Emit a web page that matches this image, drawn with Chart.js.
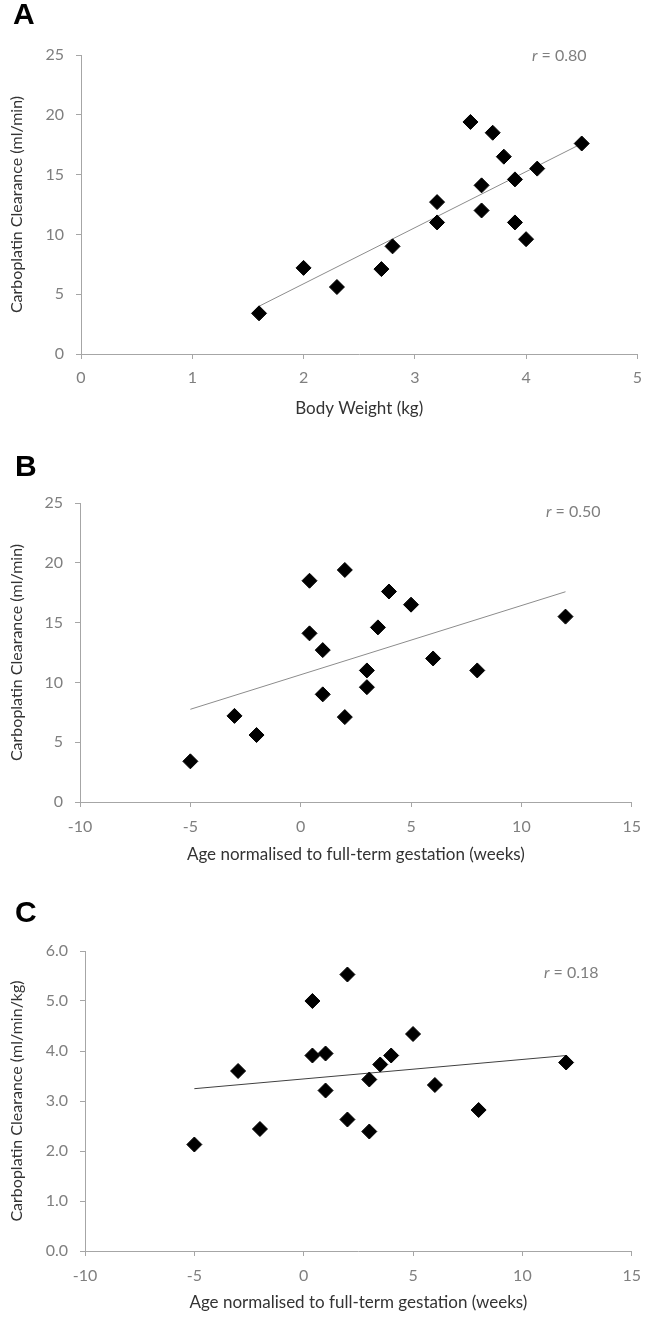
<!DOCTYPE html>
<html>
<head>
<meta charset="utf-8">
<script src="https://cdn.jsdelivr.net/npm/chart.js@4"></script>
<style>
    body { margin: 0; background: #fff; }
    .panel { position: relative; width: 651px; height: 440px; }
</style>
</head>
<body>
<div class="panel"><canvas id="panelA" width="651" height="440"></canvas></div>
<div class="panel"><canvas id="panelB" width="651" height="440"></canvas></div>
<div class="panel"><canvas id="panelC" width="651" height="440"></canvas></div>
<script>
// panel A: clearance against body weight
var weightKg = [1.6, 2.0, 2.3, 2.7, 2.8, 3.2, 3.2, 3.5, 3.6, 3.6, 3.7, 3.8, 3.9, 3.9, 4.0, 4.1, 4.5];
var clearanceByWeight = [3.4, 7.2, 5.6, 7.1, 9.0, 12.7, 11.0, 19.4, 14.1, 12.0, 18.5, 16.5, 14.6, 11.0, 9.6, 15.5, 17.6];

// panels B and C: against normalised age
var ageWeeks = [-5, -3, -2, 0.4, 0.4, 1, 1, 2, 2, 3, 3, 3.5, 4, 5, 6, 8, 12];
var clearanceByAge = [3.4, 7.2, 5.6, 18.5, 14.1, 12.7, 9.0, 19.4, 7.1, 11.0, 9.6, 14.6, 17.6, 16.5, 12.0, 11.0, 15.5];
var clearancePerKg = [2.13, 3.6, 2.44, 5.0, 3.91, 3.95, 3.21, 5.53, 2.63, 3.43, 2.39, 3.73, 3.91, 4.34, 3.32, 2.82, 3.77];

var weightTicks = [0, 1, 2, 3, 4, 5];
var ageTicks = [-10, -5, 0, 5, 10, 15];
var clearanceTicks = [0, 5, 10, 15, 20, 25];
var perKgTicks = [0, 1, 2, 3, 4, 5, 6];

var panelLetters = ["A", "B", "C"];
var rValues = ["0.80", "0.50", "0.18"];

var AXIS = "#a6a6a6";
var TICK = "#7f7f7f";
var TITLE = "#333333";
var FONT = "Lato";

function trendLine(xs, ys) {
    var n = xs.length, mx = 0, my = 0, sxy = 0, sxx = 0;
    for (var i = 0; i < n; i++) { mx += xs[i]; my += ys[i]; }
    mx /= n; my /= n;
    for (var j = 0; j < n; j++) {
        sxy += (xs[j] - mx) * (ys[j] - my);
        sxx += (xs[j] - mx) * (xs[j] - mx);
    }
    var b = sxy / sxx;
    var lo = Math.min.apply(null, xs), hi = Math.max.apply(null, xs);
    return [{ x: lo, y: my + b * (lo - mx) }, { x: hi, y: my + b * (hi - mx) }];
}

function points(xs, ys) {
    return xs.map(function (x, i) { return { x: x, y: ys[i] }; });
}

var panelText = {
    id: "panelText",
    afterDraw: function (chart, args, opts) {
        var ctx = chart.ctx;
        ctx.save();
        ctx.fillStyle = "#000";
        ctx.textBaseline = "alphabetic";
        ctx.font = "bold 30px 'Liberation Sans'";
        ctx.fillText(opts.letter, opts.letterX, opts.letterY);

        ctx.fillStyle = TICK;
        ctx.textBaseline = "middle";
        ctx.font = "italic 16px " + FONT;
        ctx.fillText("r", opts.rX, opts.rY);
        var w = ctx.measureText("r").width;
        ctx.font = "16px " + FONT;
        ctx.fillText(" = " + opts.r, opts.rX + w, opts.rY);
        ctx.restore();
    }
};

function makeChart(id, p) {
    var cfg = {
        type: "scatter",
        data: {
            datasets: [
                {
                    data: points(p.xs, p.ys),
                    pointStyle: "rectRot",
                    pointRadius: 7.5,
                    pointBackgroundColor: "#000",
                    pointBorderColor: "#000",
                    pointBorderWidth: 1,
                    order: 0,
                },
                {
                    data: trendLine(p.xs, p.ys),
                    showLine: true,
                    pointRadius: 0,
                    borderColor: p.lineColor,
                    borderWidth: 1,
                    order: 1,
                },
            ],
        },
        options: {
            animation: false,
            responsive: false,
            layout: {
                autoPadding: false,
                padding: { top: p.top, left: 0, right: p.right, bottom: p.bottom },
            },
            plugins: {
                legend: { display: false },
                tooltip: { enabled: false },
                panelText: p.text,
            },
            scales: {
                x: {
                    type: "linear",
                    min: p.xTicks[0],
                    max: p.xTicks[p.xTicks.length - 1],
                    afterBuildTicks: function (s) {
                        s.ticks = p.xTicks.map(function (v) { return { value: v }; });
                    },
                    afterFit: function (s) { s.height = p.xHeight; },
                    grid: { drawOnChartArea: false, drawTicks: true, tickLength: 5, color: AXIS },
                    border: { display: true, color: AXIS, width: 1 },
                    ticks: {
                        color: TICK,
                        font: { family: FONT, size: 16 },
                        padding: p.xPad,
                        autoSkip: false,
                        maxRotation: 0,
                    },
                    title: {
                        display: true,
                        text: p.xTitle,
                        color: TITLE,
                        font: { family: FONT, size: 17 },
                        padding: { top: 0, bottom: p.xTitlePad },
                    },
                },
                y: {
                    type: "linear",
                    min: p.yTicks[0],
                    max: p.yTicks[p.yTicks.length - 1],
                    afterBuildTicks: function (s) {
                        s.ticks = p.yTicks.map(function (v) { return { value: v }; });
                    },
                    afterFit: function (s) { s.width = p.left; },
                    grid: { drawOnChartArea: false, drawTicks: true, tickLength: 5, color: AXIS },
                    border: { display: true, color: AXIS, width: 1 },
                    ticks: {
                        color: TICK,
                        font: { family: FONT, size: 16 },
                        padding: 12,
                        autoSkip: false,
                        callback: function (v) { return v.toFixed(p.decimals); },
                    },
                    title: {
                        display: true,
                        text: p.yTitle,
                        color: TITLE,
                        font: { family: FONT, size: 16 },
                        padding: { top: 7, bottom: 0 },
                    },
                },
            },
        },
        plugins: [panelText],
    };
    return new Chart(document.getElementById(id), cfg);
}

makeChart("panelA", {
    xs: weightKg, ys: clearanceByWeight,
    xTicks: weightTicks, yTicks: clearanceTicks, decimals: 0,
    xTitle: "Body Weight (kg)", yTitle: "Carboplatin Clearance (ml/min)",
    lineColor: "#8c8c8c",
    top: 55, left: 81, right: 6, bottom: 16, xHeight: 70, xPad: 9, xTitlePad: 5,
    text: { letter: panelLetters[0], letterX: 13, letterY: 24, r: rValues[0], rX: 532, rY: 56 },
});

makeChart("panelB", {
    xs: ageWeeks, ys: clearanceByAge,
    xTicks: ageTicks, yTicks: clearanceTicks, decimals: 0,
    xTitle: "Age normalised to full-term gestation (weeks)", yTitle: "Carboplatin Clearance (ml/min)",
    lineColor: "#8c8c8c",
    top: 63, left: 80, right: 12, bottom: 8, xHeight: 70, xPad: 10, xTitlePad: 7,
    text: { letter: panelLetters[1], letterX: 15, letterY: 36, r: rValues[1], rX: 546, rY: 72 },
});

makeChart("panelC", {
    xs: ageWeeks, ys: clearancePerKg,
    xTicks: ageTicks, yTicks: perKgTicks, decimals: 1,
    xTitle: "Age normalised to full-term gestation (weeks)", yTitle: "Carboplatin Clearance (ml/min/kg)",
    lineColor: "#404040",
    top: 71, left: 85, right: 12, bottom: 4, xHeight: 65, xPad: 10, xTitlePad: 3,
    text: { letter: panelLetters[2], letterX: 15, letterY: 42, r: rValues[2], rX: 544, rY: 93 },
});
</script>
</body>
</html>
